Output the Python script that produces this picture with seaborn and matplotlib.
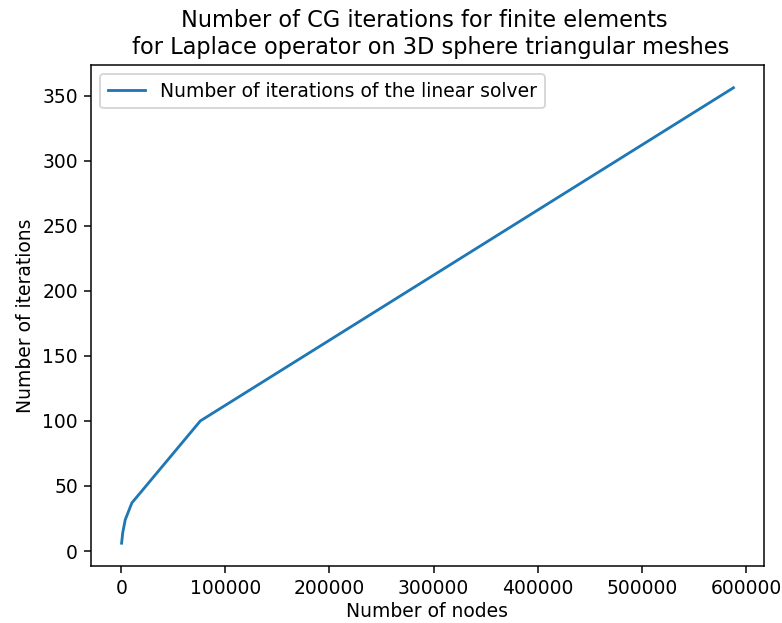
import matplotlib
matplotlib.use("Agg")
import matplotlib.pyplot as plt
import seaborn as sns
import pandas as pd

# Mesh refinement levels: node counts and CG iteration counts
nodes = [362, 1442, 3842, 10242, 76002, 588000]
iterations = [6, 14, 24, 37, 100, 356]
series_label = "Number of iterations of the linear solver"

df = pd.DataFrame({"nodes": nodes, "iterations": iterations})

DPI = 135
fig = plt.figure(figsize=(782 / DPI, 623 / DPI), dpi=DPI)
ax = fig.add_axes([91 / 782, 1 - 566 / 623, 673 / 782, 501 / 623])

sns.lineplot(data=df, x="nodes", y="iterations", ax=ax, color="#1f77b4",
             label=series_label)

ax.set_title("Number of CG iterations for finite elements \n"
             " for Laplace operator on 3D sphere triangular meshes")
ax.set_xlabel("Number of nodes", labelpad=2)
ax.set_ylabel("Number of iterations")
ax.legend(loc="upper left")

fig.savefig("out.png", dpi=DPI)
